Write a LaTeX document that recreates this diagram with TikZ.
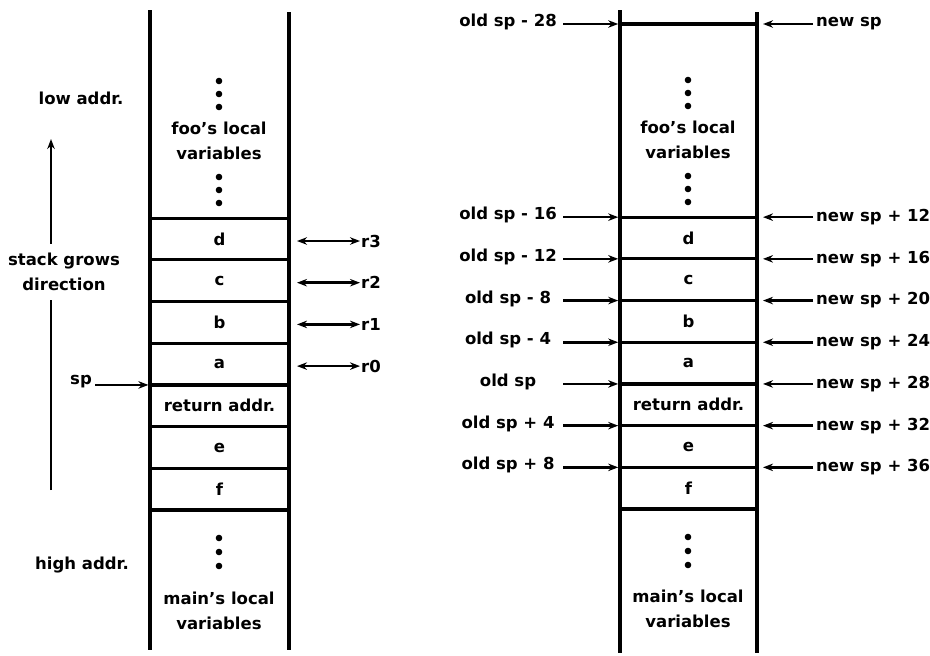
\documentclass[tikz,border=0pt]{standalone}
\usepackage{fontspec}
\setmainfont{DejaVu Sans}
\usetikzlibrary{arrows.meta, positioning, calc}

\begin{document}
\begin{tikzpicture}[x=1pt, y=-1pt, >={Stealth[length=10pt, width=7.5pt]},
    font=\fontsize{16.5}{25}\selectfont\bfseries,
    wall/.style={line width=3.4pt},
    link/.style={line width=2.6pt},
    cell/.style={draw, line width=3.2pt, minimum height=41.7pt, inner sep=0pt, outer sep=0pt},
    lcell/.style={cell, minimum width=139pt},
    rcell/.style={cell, minimum width=137pt}]
    \useasboundingbox (0,0) rectangle (930,656);

    % Left stack, before the call
    \draw [wall] (150,10) -- (150,650);
    \draw [wall] (289,12) -- (289,650);
    \node [lcell] (ld) at (219.5,239) {d};
    \node [lcell, below=0pt of ld] (lc) {c};
    \node [lcell, below=0pt of lc] (lb) {b};
    \node [lcell, below=0pt of lb] (la) {a};
    \node [lcell, below=0pt of la] (lret) {return addr.};
    \node [lcell, below=0pt of lret] (le) {e};
    \node [lcell, below=0pt of le] (lf) {f};
    \foreach \y in {81,94,107,177,190,203,538,552,566}
        \fill (219,\y) circle (3.3pt);
    \node [align=center] (lfoo) at (219,141) {foo's local\\variables};
    \node [align=center] (lmain) at (219,611) {main's local\\variables};

    % Left side labels
    \node (lowaddr) at (81,98) {low addr.};
    \node (highaddr) at (82,565) {high addr.};
    \node [align=center, inner sep=9pt] (grow) at (64,272) {stack grows\\direction};
    \coordinate (growbot) at (51,490);
    \coordinate (growtop) at (51,139);
    \draw [link] (growbot) -- (growbot |- grow.south);
    \draw [link, ->] (growbot |- grow.north) -- (growtop);
    \node (sp) at (81,382) {sp};
    \draw [link, ->, shorten >=1.6pt] (sp.east |- la.south west) -- (la.south west);

    % Argument registers
    \foreach \c/\r in {ld/r3, lc/r2, lb/r1, la/r0} {
        \node [anchor=west, inner sep=1pt] (\r) at ($(\c.east)+(71,2)$) {\r};
        \coordinate (\r-tail) at ($(\c.east)+(8,2)$);
        \draw [link, <->] (\r-tail) -- (\r.west);
    }

    % Right stack, inside foo
    \draw [wall] (620,10) -- (620,653);
    \draw [wall] (757,12) -- (757,653);
    \coordinate (rtopl) at (620,24);
    \coordinate (rtopr) at (757,24);
    \draw [wall] (rtopl) -- (rtopr);
    \node [rcell] (rd) at (688.5,238) {d};
    \node [rcell, below=0pt of rd] (rc) {c};
    \node [rcell, below=0pt of rc] (rb) {b};
    \node [rcell, below=0pt of rb] (ra) {a};
    \node [rcell, below=0pt of ra] (rret) {return addr.};
    \node [rcell, below=0pt of rret] (re) {e};
    \node [rcell, below=0pt of re] (rf) {f};
    \foreach \y in {80,93,106,176,189,202,537,551,565}
        \fill (688,\y) circle (3.3pt);
    \node [align=center] (rfoo) at (688,140) {foo's local\\variables};
    \node [align=center] (rmain) at (688,609) {main's local\\variables};

    % Offsets from the old sp
    \foreach \p/\t [count=\i] in {rtopl/{old sp - 28}, rd.north west/{old sp - 16},
            rc.north west/{old sp - 12}, rb.north west/{old sp - 8},
            ra.north west/{old sp - 4}, rret.north west/{old sp},
            re.north west/{old sp + 4}, rf.north west/{old sp + 8}} {
        \node (old\i) at ($(\p)+(-112,-2)$) {\t};
        \coordinate (old\i-tail) at ($(\p)+(-57,0)$);
        \draw [link, ->, shorten >=1.8pt] (old\i-tail) -- (\p);
    }

    % Offsets from the new sp
    \foreach \p/\t [count=\i] in {rtopr/{new sp}, rd.north east/{new sp + 12},
            rc.north east/{new sp + 16}, rb.north east/{new sp + 20},
            ra.north east/{new sp + 24}, rret.north east/{new sp + 28},
            re.north east/{new sp + 32}, rf.north east/{new sp + 36}} {
        \node [anchor=west, inner sep=3pt] (new\i) at ($(\p)+(56,0)$) {\t};
        \draw [link, ->, shorten >=6pt] (new\i.west) -- (\p);
    }
\end{tikzpicture}
\end{document}
